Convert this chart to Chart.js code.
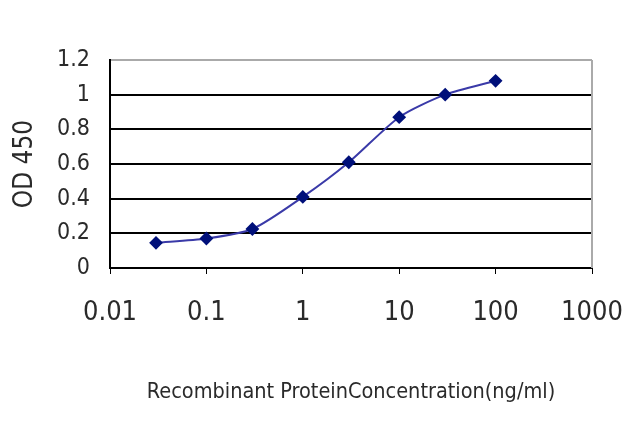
<!DOCTYPE html>
<html>
<head>
  <meta charset="UTF-8">
  <title>OD 450 curve</title>
  <script src="https://cdn.jsdelivr.net/npm/chart.js"></script>
  <style>
    body { margin: 0; background: #fff; }
    #wrap { width: 640px; height: 427px; }
  </style>
</head>
<body>
  <div id="wrap"><canvas id="grafico" width="640" height="427"></canvas></div>
  <script>
    const concentracoes = [0.03, 0.1, 0.3, 1, 3, 10, 30, 100];
    const od450 = [0.145, 0.17, 0.225, 0.41, 0.61, 0.87, 1.0, 1.08];
    const xTicks = [0.01, 0.1, 1, 10, 100, 1000];
    const xLabels = ['0.01', '0.1', '1', '10', '100', '1000'];
    const yTicks = [0, 0.2, 0.4, 0.6, 0.8, 1, 1.2];

    const fonte = "'DejaVu Sans Condensed', 'Liberation Sans Narrow', 'Liberation Sans', sans-serif";

    const ctx = document.getElementById('grafico').getContext('2d');
    new Chart(ctx, {
      type: 'line',
      data: {
        datasets: [{
          data: concentracoes.map((c, i) => ({ x: c, y: od450[i] })),
          borderColor: '#3a3aa8',
          borderWidth: 2,
          backgroundColor: '#00107a',
          pointStyle: 'rectRot',
          pointRadius: 5.5,
          pointBorderColor: '#00107a',
          tension: 0.25,
          fill: false
        }]
      },
      options: {
        responsive: false,
        animation: false,
        layout: { padding: { top: 60, right: 48, left: 7, bottom: 22 } },
        plugins: { legend: { display: false }, tooltip: { enabled: false } },
        scales: {
          x: {
            type: 'logarithmic',
            min: 0.01,
            max: 1000,
            afterBuildTicks: s => { s.ticks = xTicks.map(v => ({ value: v })); },
            afterFit: s => { s.height = 137; s.paddingRight = 0; s.paddingLeft = 0; },
            ticks: {
              autoSkip: false,
              maxRotation: 0,
              padding: 23,
              color: '#2a2a2a',
              font: { family: fonte, size: 27 },
              callback: (v, i) => xLabels[i]
            },
            grid: { drawOnChartArea: false, color: '#000', tickLength: 6, lineWidth: 1 },
            border: { color: '#000', width: 2 },
            title: {
              display: true,
              text: 'Recombinant ProteinConcentration(ng/ml)',
              color: '#2a2a2a',
              font: { family: fonte, size: 21.5 },
              padding: { top: 0, bottom: 0 }
            }
          },
          y: {
            min: 0,
            max: 1.2,
            afterBuildTicks: s => { s.ticks = yTicks.map(v => ({ value: v })); },
            afterFit: s => { s.width = 103; },
            ticks: {
              padding: 20,
              color: '#2a2a2a',
              font: { family: fonte, size: 23 },
              callback: v => String(Math.round(v * 10) / 10)
            },
            grid: {
              color: c => (c.tick && c.tick.value === 1.2) ? '#aaaaaa' : '#000',
              lineWidth: 2,
              drawTicks: false
            },
            border: { color: '#000', width: 2 },
            title: {
              display: true,
              text: 'OD 450',
              color: '#2a2a2a',
              font: { family: fonte, size: 26 },
              padding: { top: 3, bottom: 0 }
            }
          }
        }
      },
      plugins: [{
        id: 'bordaDireita',
        afterDraw(chart) {
          const a = chart.chartArea, c = chart.ctx;
          c.save();
          c.strokeStyle = '#aaaaaa';
          c.lineWidth = 2;
          c.beginPath();
          c.moveTo(a.right, a.top);
          c.lineTo(a.right, a.bottom);
          c.stroke();
          c.restore();
        }
      }]
    });
  </script>
</body>
</html>
